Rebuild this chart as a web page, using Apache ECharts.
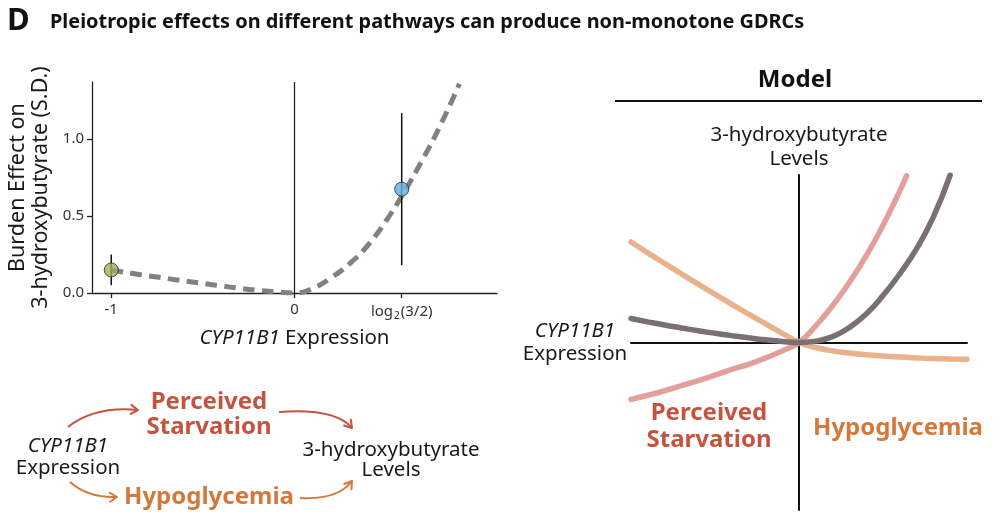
<!DOCTYPE html>
<html>
<head>
<meta charset="utf-8">
<script src="https://cdn.jsdelivr.net/npm/echarts@6/dist/echarts.min.js"></script>
<style>
html,body{margin:0;padding:0;background:#fff;}
#chart{width:1000px;height:523px;}
</style>
</head>
<body>
<div id="chart"></div>
<script>
// ---------- Data ----------
// Observed burden effects (left panel)
const obsX = [-1, 0.585];
const obsY = [0.15, 0.675];
const obsLo = [0.05, 0.18];
const obsHi = [0.25, 1.17];
const obsColors = ['#a2ae5e', '#5eaee0'];

// Fitted dashed curve (left panel)
const fitX = [-1, -0.9, -0.8, -0.7, -0.6, -0.5, -0.4, -0.3, -0.2, -0.1, 0, 0.1, 0.2, 0.3, 0.4, 0.5, 0.6, 0.7, 0.8, 0.9];
const fitY = [0.15, 0.13, 0.112, 0.095, 0.078, 0.062, 0.046, 0.031, 0.018, 0.007, 0, 0.03, 0.1, 0.19, 0.31, 0.47, 0.66, 0.87, 1.1, 1.36];

// Left panel ticks
const xTickValues = [-1, 0, 0.585];
const yTickValues = [0, 0.5, 1.0];

// Model curves (right panel)
const grayX = [-1, -0.9, -0.8, -0.7, -0.6, -0.5, -0.4, -0.3, -0.2, -0.1, 0, 0.1, 0.2, 0.3, 0.4, 0.5, 0.6, 0.7, 0.8, 0.9];
const grayY = [0.143, 0.123, 0.104, 0.087, 0.07, 0.055, 0.041, 0.028, 0.016, 0.006, 0, 0.008, 0.035, 0.09, 0.17, 0.28, 0.41, 0.56, 0.75, 1.0];
const pinkX = [-1, -0.9, -0.8, -0.7, -0.6, -0.5, -0.4, -0.3, -0.2, -0.1, 0, 0.1, 0.2, 0.3, 0.4, 0.5, 0.6, 0.64];
const pinkY = [-0.34, -0.315, -0.288, -0.258, -0.227, -0.195, -0.16, -0.13, -0.093, -0.05, 0, 0.1, 0.22, 0.36, 0.517, 0.7, 0.905, 0.995];
const orangeX = [-1, -0.9, -0.8, -0.7, -0.6, -0.5, -0.4, -0.3, -0.2, -0.1, 0, 0.1, 0.2, 0.3, 0.4, 0.5, 0.6, 0.7, 0.8, 0.9, 1.0];
const orangeY = [0.6, 0.535, 0.472, 0.41, 0.348, 0.288, 0.228, 0.17, 0.112, 0.055, 0, -0.03, -0.05, -0.063, -0.073, -0.08, -0.087, -0.092, -0.096, -0.098, -0.1];

// ---------- Chart ----------
const FONT = 'Noto Sans';
const RED = '#c4533f';
const ORANGE = '#d5783b';
const chart = echarts.init(document.getElementById('chart'), null, {renderer: 'canvas'});

const zip = (xs, ys) => xs.map((x, i) => [x, ys[i]]);

function arrow(x1, y1, cx, cy, x2, y2, color) {
  const dx = x2 - cx, dy = y2 - cy;
  const len = Math.hypot(dx, dy);
  const ux = dx / len, uy = dy / len;
  const h = 7, w = 4.5;
  const bx = x2 - ux * h, by = y2 - uy * h;
  const px = -uy, py = ux;
  return [
    {type: 'bezierCurve', shape: {x1, y1, cpx1: cx, cpy1: cy, x2, y2},
     style: {stroke: color, lineWidth: 2, fill: null}, silent: true},
    {type: 'polyline', shape: {points: [[bx + px * w, by + py * w], [x2, y2], [bx - px * w, by - py * w]]},
     style: {stroke: color, lineWidth: 2, fill: null, lineCap: 'round', lineJoin: 'round'}, silent: true}
  ];
}

function txt(text, x, y, opts) {
  return {
    type: 'text', silent: true,
    style: Object.assign({
      text, x, y, fill: '#1a1a1a', font: '20.5px ' + FONT,
      align: 'center', verticalAlign: 'middle', textAlign: 'center', textVerticalAlign: 'middle'
    }, opts || {})
  };
}

const graphics = [
  txt('D', 7, 21, {font: 'bold 31px ' + FONT, align: 'left', textAlign: 'left', fill: '#111'}),
  txt('Pleiotropic effects on different pathways can produce non-monotone GDRCs', 50, 22,
      {font: 'bold 19.9px ' + FONT, align: 'left', textAlign: 'left', fill: '#111'}),
  // Model header
  txt('Model', 795, 80, {font: 'bold 24px ' + FONT, fill: '#111'}),
  {type: 'line', shape: {x1: 615, y1: 101, x2: 982, y2: 101}, style: {stroke: '#111', lineWidth: 2}, silent: true},
  // Model labels
  txt('Perceived\nStarvation', 709, 427, {font: 'bold 24px ' + FONT, fill: RED, lineHeight: 27}),
  txt('Hypoglycemia', 898, 428, {font: 'bold 24px ' + FONT, fill: ORANGE}),
  // Diagram bottom-left
  {type: 'text', silent: true, style: {
    text: '{i|CYP11B1}\n{n|Expression}', x: 68, y: 457, fill: '#1a1a1a', font: '20.5px ' + FONT,
    align: 'center', verticalAlign: 'middle', textAlign: 'center', textVerticalAlign: 'middle',
    rich: {i: {fontStyle: 'italic', fontSize: 20.5, fontFamily: FONT, fill: '#1a1a1a', lineHeight: 22},
           n: {fontSize: 20.5, fontFamily: FONT, fill: '#1a1a1a', lineHeight: 22}}
  }},
  txt('Perceived\nStarvation', 209, 415, {font: 'bold 24px ' + FONT, fill: RED, lineHeight: 25}),
  txt('Hypoglycemia', 209, 497, {font: 'bold 24px ' + FONT, fill: ORANGE}),
  txt('3-hydroxybutyrate\nLevels', 391, 460, {lineHeight: 20}),
  ...arrow(68, 427, 95, 406, 138, 410, RED),
  ...arrow(279, 412, 335, 408, 352, 428, RED),
  ...arrow(70, 482, 88, 498, 117, 497, ORANGE),
  ...arrow(300, 498, 338, 500, 352, 481, ORANGE)
];

const option = {
  animation: false,
  backgroundColor: '#fff',
  textStyle: {fontFamily: FONT},
  grid: [
    {left: 92, top: 82, width: 405, height: 211},
    {left: 631, top: 175, width: 336, height: 335}
  ],
  xAxis: [
    {
      gridIndex: 0, type: 'value', min: -1.105, max: 1.105,
      axisLine: {onZero: false, lineStyle: {color: '#222', width: 1.3}},
      axisTick: {show: true, length: 5, customValues: xTickValues, lineStyle: {color: '#222', width: 1.3}},
      axisLabel: {
        customValues: xTickValues, color: '#333', fontSize: 15, margin: 9,
        formatter: v => (v < -0.5 ? '-1' : (Math.abs(v) < 1e-6 ? '0' : '{a|log}{s|2}{a|(3/2)}')),
        rich: {a: {fontSize: 15, color: '#333', fontFamily: FONT},
               s: {fontSize: 10, color: '#333', fontFamily: FONT, verticalAlign: 'bottom', padding: [9, 1, 0, 1]}}
      },
      splitLine: {show: false},
      name: '{i|CYP11B1} Expression', nameLocation: 'middle', nameGap: 35,
      nameTextStyle: {fontSize: 20.5, color: '#1a1a1a',
        rich: {i: {fontStyle: 'italic', fontSize: 20.5, color: '#1a1a1a', fontFamily: FONT}}}
    },
    {
      gridIndex: 1, type: 'value', min: -1, max: 1,
      axisLine: {onZero: true, lineStyle: {color: '#111', width: 2}},
      axisTick: {show: false}, axisLabel: {show: false}, splitLine: {show: false},
      name: '{i|CYP11B1}\n{n|Expression}', nameLocation: 'start', nameGap: 56,
      nameTextStyle: {fontSize: 20.5, color: '#1a1a1a', align: 'center', verticalAlign: 'middle',
        rich: {i: {fontStyle: 'italic', fontSize: 20.5, color: '#1a1a1a', fontFamily: FONT, lineHeight: 23},
               n: {fontSize: 20.5, color: '#1a1a1a', fontFamily: FONT, lineHeight: 23}}}
    }
  ],
  yAxis: [
    {
      gridIndex: 0, type: 'value', min: 0, max: 1.372,
      axisLine: {show: true, onZero: false, lineStyle: {color: '#222', width: 1.3}},
      axisTick: {show: true, length: 5, customValues: yTickValues, lineStyle: {color: '#222', width: 1.3}},
      axisLabel: {customValues: yTickValues, color: '#333', fontSize: 15, margin: 8, formatter: v => v.toFixed(1)},
      splitLine: {show: false},
      name: 'Burden Effect on\n3-hydroxybutyrate (S.D.)', nameLocation: 'middle', nameRotate: 90, nameGap: 40,
      nameTextStyle: {fontSize: 21.5, color: '#1a1a1a', lineHeight: 23}
    },
    {
      gridIndex: 1, type: 'value', min: -1, max: 1,
      axisLine: {show: true, onZero: true, lineStyle: {color: '#111', width: 2}},
      axisTick: {show: false}, axisLabel: {show: false}, splitLine: {show: false},
      name: '3-hydroxybutyrate\nLevels', nameLocation: 'end', nameGap: 4,
      nameTextStyle: {fontSize: 20.5, color: '#1a1a1a', align: 'center', lineHeight: 24}
    }
  ],
  series: [
    {
      type: 'line', xAxisIndex: 0, yAxisIndex: 0, data: zip(fitX, fitY), smooth: true,
      symbol: 'none', z: 3,
      lineStyle: {color: '#857f80', width: 5, type: [12, 7], cap: 'butt'},
      markLine: {
        silent: true, symbol: 'none', label: {show: false},
        lineStyle: {color: '#222', width: 1.3, type: 'solid'},
        data: [{xAxis: 0}]
      }
    },
    {
      type: 'custom', xAxisIndex: 0, yAxisIndex: 0, z: 4,
      data: obsX.map((x, i) => [x, obsLo[i], obsHi[i]]),
      encode: {x: 0, y: [1, 2]},
      renderItem: (params, api) => {
        const p1 = api.coord([api.value(0), api.value(1)]);
        const p2 = api.coord([api.value(0), api.value(2)]);
        return {type: 'line', shape: {x1: p1[0], y1: p1[1], x2: p2[0], y2: p2[1]}, style: {stroke: '#111', lineWidth: 1.5}};
      }
    },
    {
      type: 'scatter', xAxisIndex: 0, yAxisIndex: 0, z: 5, symbolSize: 14,
      data: obsX.map((x, i) => ({value: [x, obsY[i]], itemStyle: {color: obsColors[i], borderColor: '#2a2a2a', borderWidth: 1}}))
    },
    {
      type: 'line', xAxisIndex: 1, yAxisIndex: 1, data: zip(orangeX, orangeY), smooth: true,
      symbol: 'none', lineStyle: {color: '#e9b28d', width: 5.5, cap: 'round'}
    },
    {
      type: 'line', xAxisIndex: 1, yAxisIndex: 1, data: zip(pinkX, pinkY), smooth: true,
      symbol: 'none', lineStyle: {color: '#e1a09b', width: 5.5, cap: 'round'}
    },
    {
      type: 'line', xAxisIndex: 1, yAxisIndex: 1, data: zip(grayX, grayY), smooth: true,
      symbol: 'none', lineStyle: {color: '#7a6f72', width: 5.5, cap: 'round'}
    }
  ],
  graphic: graphics
};
chart.setOption(option);
</script>
</body>
</html>
